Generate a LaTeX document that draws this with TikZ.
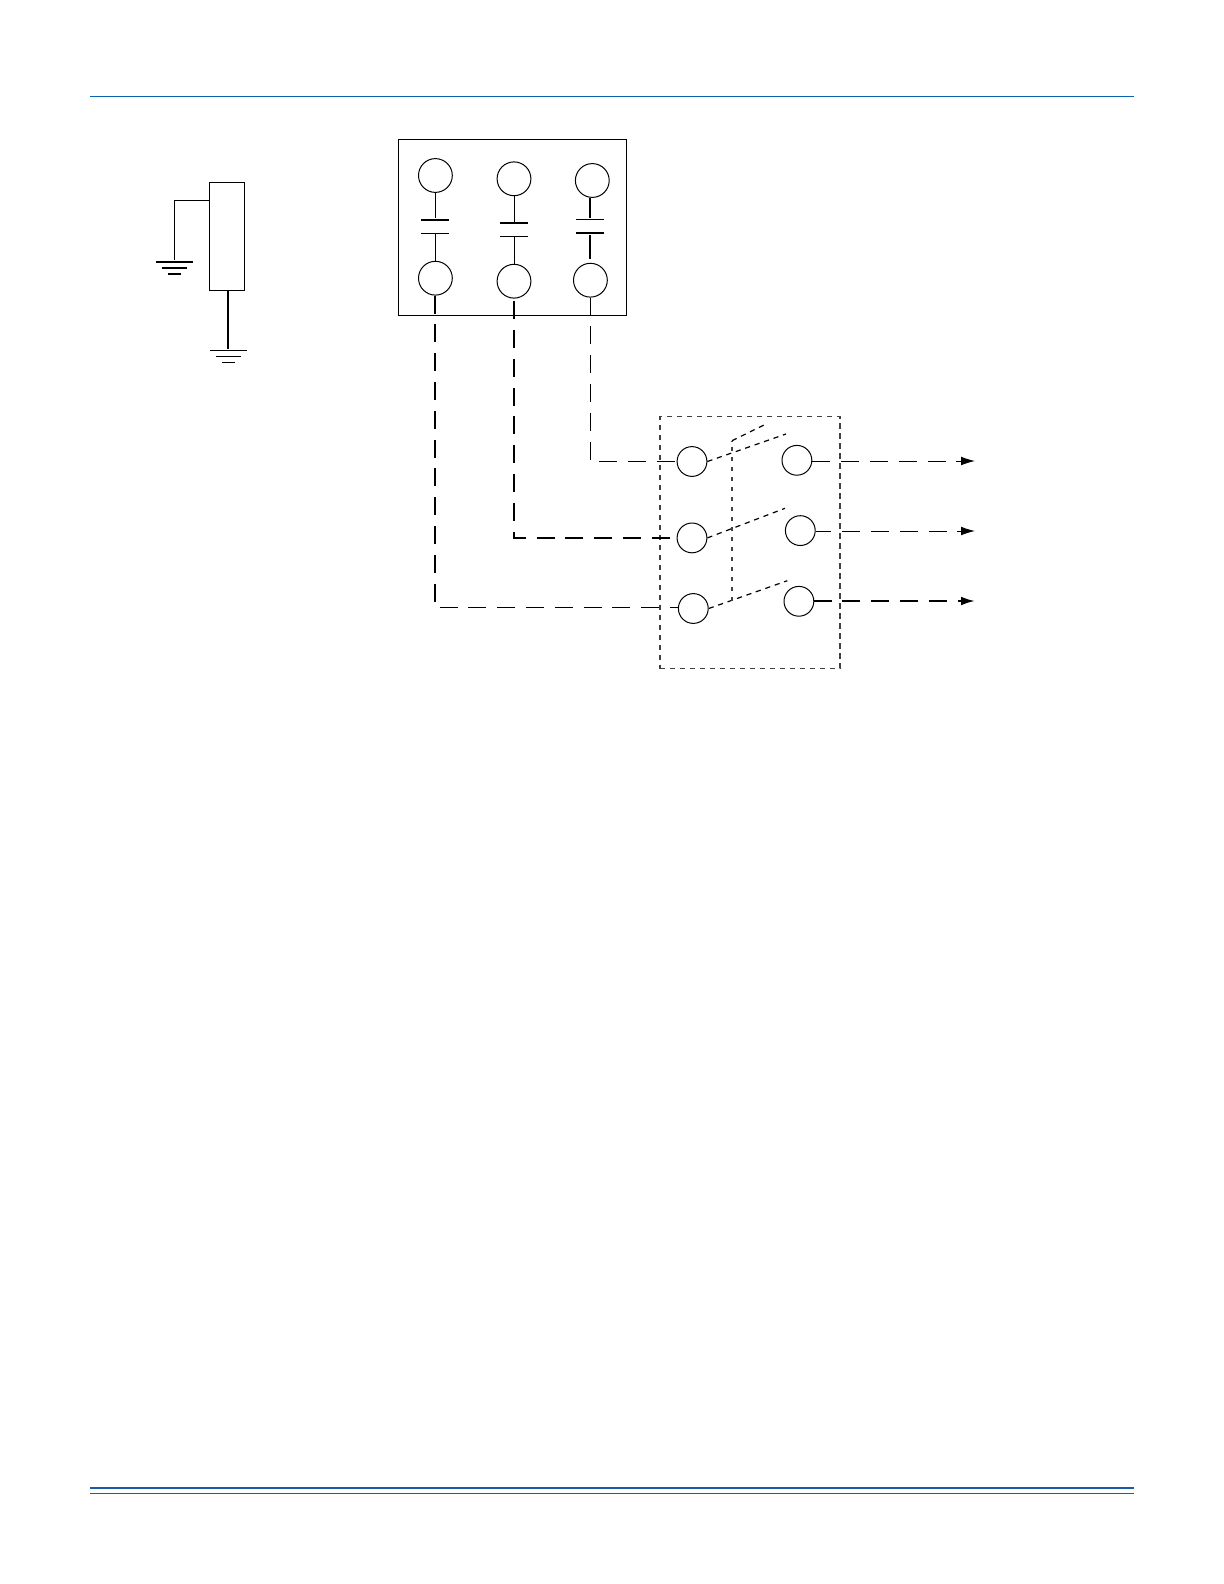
\documentclass[tikz,border=0pt]{standalone}
\usepackage{tikz}
\usetikzlibrary{arrows.meta}
\definecolor{rulecol}{HTML}{1B5AAA}
\definecolor{toprulecol}{HTML}{0A62B4}

\begin{document}
\begin{tikzpicture}[x=.5pt,y=-.5pt,
    term/.style={circle,draw,line width=.5pt,inner sep=0pt,minimum size=16.9pt},
    swterm/.style={term,minimum size=14.9pt},
    plate/.style={fill,inner sep=0pt,minimum width=14pt,minimum height=.5pt},
    hvplate/.style={plate,minimum height=1.1pt},
    gnd/.style={fill,inner sep=0pt,minimum height=.5pt},
    hvgnd/.style={gnd,minimum height=.9pt},
    wire/.style={line width=.5pt,dash pattern=on 9pt off 5.4pt},
    hvwire/.style={wire,line width=1.05pt},
    outwire/.style={-{Latex[length=7pt,width=4.4pt]}},
    link/.style={line width=.6pt,dash pattern=on 2.6pt off 2.4pt},
    frame/.style={link,draw=black!75,line width=.72pt},
    riser/.style={link,draw=black!75,line width=.9pt,dash pattern=on 2.2pt off 2.8pt}]
  \useasboundingbox (0,0) rectangle (1224,1584);

  \draw[toprulecol,line width=.8pt] (90,96.5)  -- (1134,96.5);
  \draw[rulecol,line width=1.1pt] (90,1487.7) -- (1134,1487.7);
  \draw[rulecol,line width=.6pt] (90,1493.3) -- (1134,1493.3);

  \node[draw,line width=.6pt,inner sep=0pt,minimum width=17.3pt,minimum height=54pt] (rod) at (227,236.3) {};
  \node[hvgnd,minimum width=18.5pt] (gndAa) at (174.2,261.7) {};
  \node[hvgnd,minimum width=12.5pt] (gndAb) at (174.2,268)   {};
  \node[hvgnd,minimum width=6.5pt]  (gndAc) at (174.2,274)   {};
  \node[gnd,minimum width=18.5pt]   (gndBa) at (228,350.3)   {};
  \node[gnd,minimum width=12.5pt]   (gndBb) at (228,356.5)   {};
  \node[gnd,minimum width=6.5pt]    (gndBc) at (228,362)     {};
  \coordinate (rodtap) at (174.2,200.3);
  \draw[line width=.5pt] (rod.west |- rodtap) -- (rodtap);
  \draw[line width=.7pt] (rodtap) -- (gndAa);
  \draw[line width=.6pt] (rod.south -| gndBa) -- (gndBa);

  \node[draw,line width=.7pt,inner sep=0pt,minimum width=114pt,minimum height=88pt] (capbox) at (512.7,227.3) {};
  \node[term] (tAa) at (435.4,175.5) {};
  \node[term] (tBa) at (514,178.8)   {};
  \node[term] (tCa) at (592.3,180.5) {};
  \node[term] (tAb) at (435.4,278.2) {};
  \node[term] (tBb) at (514,281.2)   {};
  \node[term] (tCb) at (590.4,280.2) {};
  \node[hvplate] (pAa) at (435.4,219.7) {};
  \node[plate]   (pAb) at (435.4,233.3) {};
  \node[hvplate] (pBa) at (514,223)     {};
  \node[plate]   (pBb) at (514,236.3)   {};
  \node[plate]   (pCa) at (590,219.3)   {};
  \node[hvplate] (pCb) at (590,233)     {};
  \coordinate (pCend) at (590,259.3);

  \path[line width=.5pt]
        (tAa) edge (pAa)
        (pAb) edge (tAb)
        (tBa) edge (pBa)
        (pBb) edge (tBb)
        ;
  \path[line width=1.05pt]
        (pCa |- tCa.south) edge (pCa)
        (pCb) edge (pCend)
        ;

  \node[frame,draw,inner sep=0pt,minimum width=90pt,minimum height=126pt] (swbox) at (750,542.5) {};
  \node[swterm] (swLa) at (692,461.5)   {};
  \node[swterm] (swLb) at (692,537.9)   {};
  \node[swterm] (swLc) at (693.3,608.5) {};
  \node[swterm] (swRa) at (796.9,460.3) {};
  \node[swterm] (swRb) at (800.3,530.6) {};
  \node[swterm] (swRc) at (798.9,601.3) {};

  \coordinate (bladeA)  at (786,434);
  \coordinate (bladeB)  at (785,508.3);
  \coordinate (bladeC)  at (787.3,580.7);
  \coordinate (linkbot) at (732,601);
  \coordinate (linktop) at (732,440.7);
  \coordinate (linkend) at (764,425);
  \coordinate (wireA)   at (435.4,607);
  \coordinate (outA)    at (975,461);
  \coordinate (outB)    at (975,531);
  \coordinate (outC)    at (975,601);

  \path[link]
        (swLa.east) edge (bladeA)
        (swLb.east) edge (bladeB)
        (swLc.east) edge (bladeC)
        (linktop)   edge (linkend)
        ;
  \draw[riser] (linkbot) -- (linktop);

  \draw[hvwire] (tAb.south) -- (wireA);
  \draw[wire,dash phase=12.3pt] (wireA) -- (wireA -| swLc.west);
  \draw[hvwire,dash phase=13.1pt] (tBb.south) |- (swLb.west);
  \draw[wire] (tCb.south) |- (swLa.west);

  \draw[wire,outwire] (swRa.east |- outA) -- (outA);
  \draw[wire,outwire,dash phase=1.2pt] (swRb.east |- outB) -- (outB);
  \draw[hvwire,outwire,dash phase=.4pt] (swRc.east |- outC) -- (outC);
\end{tikzpicture}
\end{document}
